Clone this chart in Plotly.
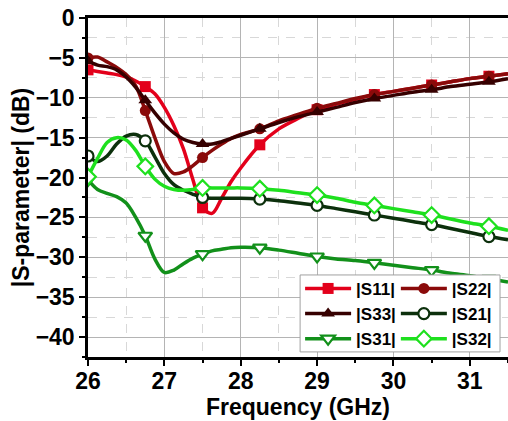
import plotly.graph_objects as go

FREQ = [26, 26.125, 26.25, 26.375, 26.5, 26.625, 26.75, 26.875, 27, 27.125, 27.25,
        27.375, 27.5, 27.625, 27.75, 27.875, 28, 28.25, 28.5, 28.75, 29, 29.25, 29.5,
        29.75, 30, 30.25, 30.5, 30.75, 31, 31.25, 31.5]
MARKER_FREQ = [26, 26.75, 27.5, 28.25, 29, 29.75, 30.5, 31.25]

S11 = [-6.5, -6.7, -6.9, -7.1, -7.4, -7.9, -8.6, -9.5, -11.2, -13.5, -16.4,
       -20.3, -23.8, -24.5, -22.6, -20.5, -18.8, -15.9, -13.9, -12.6, -11.5, -10.8, -10.2,
       -9.6, -9.2, -8.8, -8.4, -8.0, -7.6, -7.3, -7.0]
S22 = [-5.0, -4.9, -5.5, -6.2, -7.1, -8.5, -11.6, -15.0, -18.0, -19.5, -19.3,
       -18.5, -17.5, -16.6, -15.8, -15.1, -14.6, -13.9, -12.9, -12.1, -11.3, -10.7, -10.1,
       -9.6, -9.2, -8.8, -8.4, -8.0, -7.6, -7.3, -7.0]
S33 = [-5.4, -5.9, -6.1, -6.5, -7.4, -8.7, -10.3, -11.9, -13.3, -14.4, -15.2,
       -15.6, -15.8, -15.8, -15.5, -15.1, -14.7, -13.9, -13.1, -12.4, -11.8, -11.2, -10.6,
       -10.1, -9.7, -9.3, -9.0, -8.6, -8.3, -8.0, -7.6]
S21 = [-17.3, -18.0, -17.3, -15.8, -14.8, -14.6, -15.4, -17.4, -19.5, -20.9, -21.6,
       -22.1, -22.5, -22.6, -22.6, -22.6, -22.6, -22.7, -22.9, -23.2, -23.5, -23.9, -24.3,
       -24.7, -25.1, -25.5, -25.9, -26.4, -26.9, -27.4, -27.8]
S31 = [-20.3, -21.5, -22.0, -22.4, -23.2, -25.0, -27.3, -30.2, -31.9, -31.6, -30.8,
       -30.1, -29.6, -29.2, -29.0, -28.8, -28.75, -28.8, -29.1, -29.5, -29.9, -30.2, -30.4,
       -30.7, -31.0, -31.3, -31.6, -32.0, -32.3, -32.7, -33.1]
S32 = [-19.9, -17.6, -15.6, -15.0, -15.3, -16.6, -18.6, -20.2, -21.1, -21.5, -21.6,
       -21.5, -21.3, -21.3, -21.3, -21.3, -21.3, -21.4, -21.6, -21.9, -22.2, -22.6, -23.1,
       -23.5, -23.9, -24.3, -24.7, -25.2, -25.7, -26.1, -26.6]

NAMES = ["|S11|", "|S22|", "|S33|", "|S21|", "|S31|", "|S32|"]
SERIES = [S11, S22, S33, S21, S31, S32]
COLORS = ["#e3001b", "#8a0a0a", "#360000", "#0c300c", "#12901a", "#1ee01e"]
SYMBOLS = ["square", "circle", "triangle-up", "circle", "triangle-down", "diamond"]
FILLED = [True, True, True, False, False, False]
SIZES = [11, 11, 12, 11, 12, 12]
LEGEND_COL = ["legend", "legend2", "legend", "legend2", "legend", "legend2"]

FONT = "Liberation Sans, Arial, sans-serif"

fig = go.Figure()
for name, ys, col, sym, filled, sz, lg in zip(NAMES, SERIES, COLORS, SYMBOLS, FILLED, SIZES, LEGEND_COL):
    marker = dict(symbol=sym, size=sz,
                  color=col if filled else "white",
                  line=dict(color=col, width=2.2 if not filled else 0))
    fig.add_trace(go.Scatter(x=FREQ, y=ys, mode="lines", showlegend=False,
                             line=dict(color=col, width=3.5, shape="spline", smoothing=0.9),
                             hoverinfo="skip"))
    mx = [f for f in FREQ if f in MARKER_FREQ]
    my = [y for f, y in zip(FREQ, ys) if f in MARKER_FREQ]
    fig.add_trace(go.Scatter(x=mx, y=my, mode="markers", showlegend=False, marker=marker))
    fig.add_trace(go.Scatter(x=[None], y=[None], mode="lines+markers", name=name, legend=lg,
                             line=dict(color=col, width=3.5), marker=marker))

LEG_X0, LEG_X1, LEG_Y0, LEG_Y1 = 0.505, 0.981, 0.015, 0.242
fig.add_shape(type="rect", xref="paper", yref="paper",
              x0=LEG_X0, x1=LEG_X1, y0=LEG_Y0, y1=LEG_Y1,
              fillcolor="white", line=dict(color="#a0a0a0", width=1), layer="above")

legend_common = dict(orientation="v", xanchor="left", yanchor="top",
                     bgcolor="rgba(0,0,0,0)", borderwidth=0, itemwidth=46,
                     font=dict(family=FONT, size=17, weight="bold"))

fig.update_layout(
    width=508, height=421,
    margin=dict(l=88, r=0, t=18, b=64, autoexpand=False),
    paper_bgcolor="white", plot_bgcolor="white",
    font=dict(family=FONT, size=23, color="black", weight="bold"),
    legend=dict(x=LEG_X0, y=0.254, **legend_common),
    legend2=dict(x=0.733, y=0.254, **legend_common),
    xaxis=dict(range=[26, 31.5], tick0=26, dtick=1,
               showline=True, linecolor="black", linewidth=2.5, mirror=True,
               ticks="outside", ticklen=6, tickwidth=2, tickcolor="black",
               showgrid=True, gridcolor="#b4b4b4", gridwidth=1.2,
               zeroline=False, ticklabelstandoff=-4,
               minor=dict(dtick=0.5, tick0=26, ticks="outside", ticklen=3, tickwidth=2,
                          tickcolor="black", showgrid=True, gridcolor="#d8d8d8",
                          griddash="dash", gridwidth=1),
               title=dict(text="Frequency (GHz)", standoff=6,
                          font=dict(family=FONT, size=23, weight="bold")),
               tickfont=dict(family=FONT, size=23, weight="bold")),
    yaxis=dict(range=[-42.5, 0], tick0=0, dtick=5,
               showline=True, linecolor="black", linewidth=2.5, mirror=False,
               ticks="outside", ticklen=6, tickwidth=2, tickcolor="black",
               showgrid=True, gridcolor="#b4b4b4", gridwidth=1.2,
               zeroline=False,
               minor=dict(dtick=2.5, tick0=0, ticks="outside", ticklen=3, tickwidth=2,
                          tickcolor="black", showgrid=True, gridcolor="#d8d8d8",
                          griddash="dash", gridwidth=1),
               title=dict(text="|S-parameter| (dB)", standoff=0,
                          font=dict(family=FONT, size=23, weight="bold")),
               tickfont=dict(family=FONT, size=23, weight="bold")),
)

fig.write_html("out.html")
